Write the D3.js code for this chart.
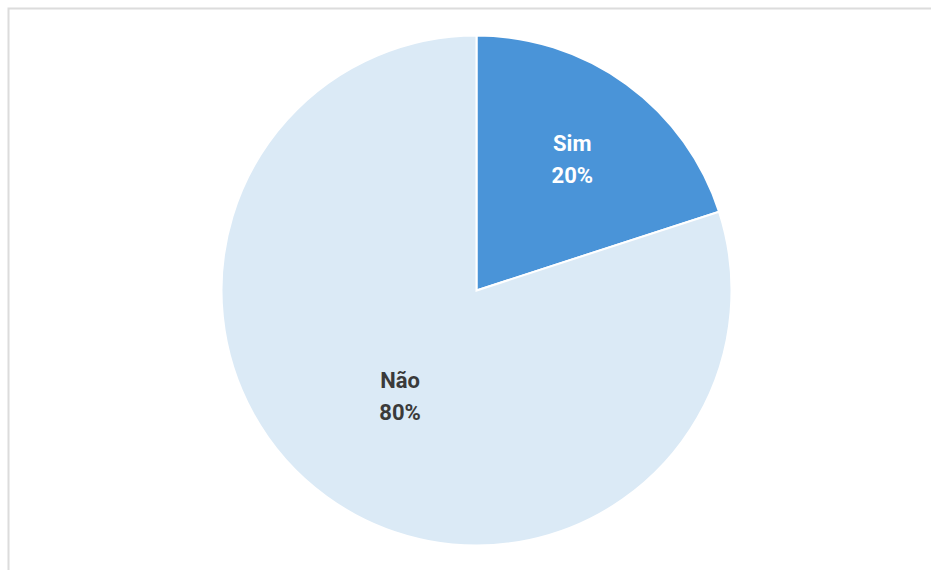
<!DOCTYPE html>
<html><head><meta charset="utf-8">
<script src="https://cdn.jsdelivr.net/npm/d3@7"></script>
<style>
html,body{margin:0;padding:0;background:#fff;}
svg{display:block;}
</style></head>
<body>
<svg id="chart" width="931" height="570"></svg>
<script>
const categories = ["Sim", "Não"];
const values = [20, 80];
const percentLabels = ["20%", "80%"];
const colors = ["#4a94d8", "#dbeaf6"];
const textColors = ["#ffffff", "#3a3a3a"];

const svg = d3.select("#chart");
// card border
svg.append("rect").attr("x", 8.5).attr("y", 8.5).attr("width", 940).attr("height", 580)
  .attr("fill", "#fff").attr("stroke", "#dcdcdc").attr("stroke-width", 2);

const cx = 476.5, cy = 290.5, r = 255;
const g = svg.append("g").attr("transform", `translate(${cx},${cy})`);
const pie = d3.pie().sort(null).value(d => d)(values);
const arc = d3.arc().innerRadius(0).outerRadius(r);

g.selectAll("path").data(pie).enter().append("path")
  .attr("d", arc)
  .attr("fill", (d, i) => colors[i])
  .attr("stroke", "#fff").attr("stroke-width", 2);

const labelR = [163, 130];
pie.forEach((d, i) => {
  const a = (d.startAngle + d.endAngle) / 2;
  const x = Math.sin(a) * labelR[i], y = -Math.cos(a) * labelR[i];
  const t = g.append("text").attr("text-anchor", "middle")
    .attr("font-family", "Roboto, sans-serif").attr("font-weight", "bold")
    .attr("font-size", 22).attr("fill", textColors[i]);
  t.append("tspan").attr("x", x).attr("y", y - 8).text(categories[i]);
  t.append("tspan").attr("x", x).attr("y", y + 24).text(percentLabels[i]);
});
</script>
</body></html>
